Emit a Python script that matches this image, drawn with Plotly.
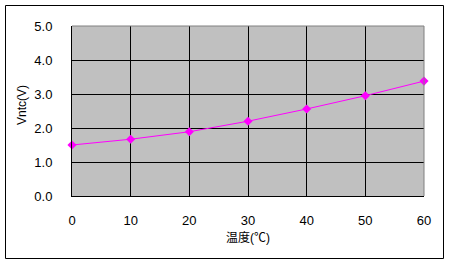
import plotly.graph_objects as go

temps = [0, 10, 20, 30, 40, 50, 60]
vntc = [1.50, 1.67, 1.89, 2.20, 2.56, 2.95, 3.38]
x_ticks = [0, 10, 20, 30, 40, 50, 60]
y_ticks = [0.0, 1.0, 2.0, 3.0, 4.0, 5.0]
x_title = "温度(℃)"
y_title = "Vntc(V)"

W, H = 449, 263
L, R, T, B = 72, 25, 26, 67
pw, ph = W - L - R, H - T - B

def px_to_paper_x(px):
    return (px - L) / pw

def py_to_paper_y(py):
    return (H - B - py) / ph

font = dict(family="Liberation Sans, Noto Sans CJK JP, sans-serif", size=13, color="black")
title_font = dict(family="Liberation Sans, Noto Sans CJK JP, sans-serif", size=12, color="black")

fig = go.Figure()
fig.add_trace(go.Scatter(
    x=temps, y=vntc, mode="lines+markers",
    line=dict(color="#FF00FF", width=1),
    marker=dict(symbol="diamond", size=7, color="#FF00FF"),
    showlegend=False, cliponaxis=False,
))

fig.update_layout(
    width=W, height=H,
    margin=dict(l=L, r=R, t=T, b=B, pad=0),
    paper_bgcolor="white", plot_bgcolor="#C0C0C0",
    font=font,
    xaxis=dict(range=[0, 60], tickvals=x_ticks, ticktext=[str(v) for v in x_ticks],
               showgrid=True, gridcolor="black", gridwidth=1,
               showline=True, linecolor="black", linewidth=1,
               ticks="", ticklabelstandoff=12, zeroline=False, fixedrange=True),
    yaxis=dict(range=[0, 5], tickvals=y_ticks, tickformat=".1f",
               showgrid=True, gridcolor="black", gridwidth=1,
               showline=True, linecolor="black", linewidth=1,
               ticks="", ticklabelstandoff=16, zeroline=False, fixedrange=True),
    shapes=[
        dict(type="rect", xref="paper", yref="paper",
             x0=px_to_paper_x(5.5), x1=px_to_paper_x(443.5),
             y0=py_to_paper_y(258.5), y1=py_to_paper_y(5.5),
             line=dict(color="black", width=1), layer="below"),
        dict(type="line", xref="paper", yref="paper", x0=0, x1=1, y0=1, y1=1,
             line=dict(color="#808080", width=1), layer="above"),
        dict(type="line", xref="paper", yref="paper", x0=1, x1=1, y0=0, y1=1,
             line=dict(color="#808080", width=1), layer="above"),
    ],
    annotations=[
        dict(text=x_title, xref="paper", yref="paper",
             x=px_to_paper_x(248), y=py_to_paper_y(238),
             showarrow=False, xanchor="center", yanchor="middle", font=title_font),
        dict(text=y_title, xref="paper", yref="paper", textangle=-90,
             x=px_to_paper_x(22), y=py_to_paper_y(105),
             showarrow=False, xanchor="center", yanchor="middle", font=title_font),
    ],
)

fig.write_html("out.html", config={"displayModeBar": False})
